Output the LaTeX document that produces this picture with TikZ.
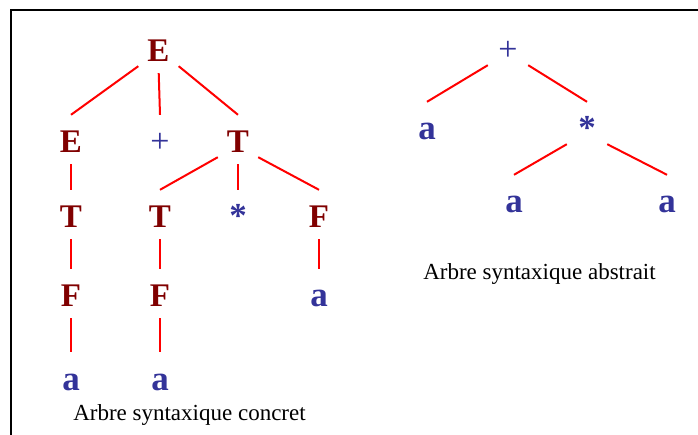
\documentclass[tikz,border=0pt]{standalone}
\usepackage{fontspec}
\setmainfont{Liberation Serif}
\usepackage{xcolor}
\definecolor{ntred}{HTML}{800000}
\definecolor{tmblue}{HTML}{333399}
\usetikzlibrary{positioning}

\tikzset{
  sym/.style={anchor=base,inner sep=0pt,minimum width=40pt,text height=38pt,text depth=4pt},
  nt/.style={sym,text=ntred,font=\fontsize{33}{37}\selectfont\bfseries},
  tm/.style={sym,text=tmblue,font=\fontsize{35}{39}\selectfont\bfseries},
  op/.style={sym,text=tmblue,font=\fontsize{34}{38}\selectfont},
  edge/.style={draw=red,line width=2pt},
  down/.style={edge,shorten <=7pt},
  caption/.style={anchor=base,inner sep=0pt,font=\fontsize{23}{27}\selectfont}
}

\begin{document}
\begin{tikzpicture}[x=1pt,y=-1pt]
  \useasboundingbox (0,0) rectangle (698,435);
  \draw[line width=1.8pt] (11,435)--(11,10)--(698,10);

  % arbre concret
  \node[nt] (E0) at (158.5,62) {E};
  \node[nt] (E1) at (71,153) {E};
  \node[op] (P1) at (160,153) {+};
  \node[nt] (T1) at (238,153) {T};
  \node[nt] (T2) at (71,228) {T};
  \node[nt] (T3) at (160,228) {T};
  \node[tm] (S1) at (238,228) {*};
  \node[nt] (F1) at (319,228) {F};
  \node[nt] (F2) at (71,307) {F};
  \node[nt] (F3) at (160,307) {F};
  \node[tm] (A1) at (319,307) {a};
  \node[tm] (A2) at (71,390) {a};
  \node[tm] (A3) at (160,390) {a};
  \draw[edge] (E0.south west)--(E1.north);
  \draw[down] (E0.south)--(P1.north);
  \draw[edge] (E0.south east)--(T1.north);
  \draw[edge] (T1.south west)--(T3.north);
  \draw[down] (T1.south)--(S1.north);
  \draw[edge] (T1.south east)--(F1.north);
  \foreach \u/\v in {E1/T2,T2/F2,T3/F3,F1/A1,F2/A2,F3/A3}{\draw[down] (\u.south)--(\v.north);}
  \node[caption] (cc) at (189.5,420) {Arbre syntaxique concret};

  % arbre abstrait
  \node[op] (P0) at (508,61) {+};
  \node[tm] (B0) at (427,140) {a};
  \node[tm] (S0) at (587,140) {*};
  \node[tm] (B1) at (514,213) {a};
  \node[tm] (B2) at (667,213) {a};
  \draw[edge] (P0.south west)--(B0.north);
  \draw[edge] (P0.south east)--(S0.north);
  \draw[edge] (S0.south west)--(B1.north);
  \draw[edge] (S0.south east)--(B2.north);
  \node[caption] (ca) at (539.5,280) {Arbre syntaxique abstrait};
\end{tikzpicture}
\end{document}
